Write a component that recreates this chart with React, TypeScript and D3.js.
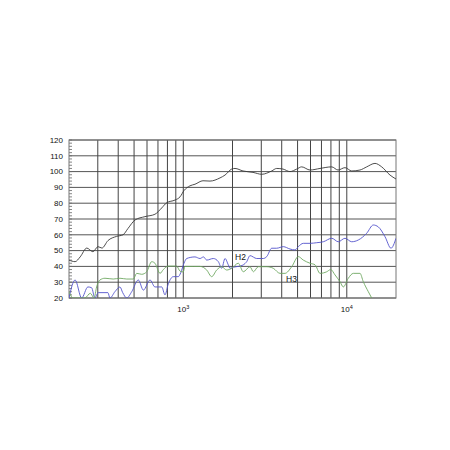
import * as d3 from 'd3';

// fundamental response
const mainFreq = [200, 218, 234, 257, 280, 301, 318, 346, 391, 428, 459, 507, 583, 671, 738, 792, 890, 955, 1010, 1099, 1179, 1320, 1457, 1677, 1800, 1978, 2072, 2318, 2670, 3018, 3474, 3727, 4074, 4494, 4940, 5300, 5958, 6858, 8088, 8838, 9752, 10716, 12044, 13240, 14878, 16352, 18380, 20000];
const mainDb = [44, 43, 46, 51.6, 49.3, 52.5, 51.6, 56.3, 59, 60, 64, 69.4, 71.5, 73, 77, 80.3, 82, 84, 88, 91, 92, 94.2, 94, 96, 97.8, 101.6, 102, 100.4, 99.5, 98.3, 100.4, 102, 101.6, 100, 101.6, 103, 101, 102, 103, 101, 102.5, 100.4, 101, 103, 105.2, 103, 97.8, 95.3];

// second harmonic
const h2Freq = [200, 218, 239, 261, 275, 288, 302, 346, 356, 382, 410, 426, 451, 484, 531, 570, 626, 671, 738, 773, 810, 869, 932, 965, 1010, 1049, 1179, 1265, 1330, 1391, 1526, 1638, 1718, 1800, 1885, 1931, 2023, 2170, 2329, 2443, 2559, 2812, 3086, 3239, 3474, 3727, 4090, 4494, 4824, 5052, 5420, 5958, 6546, 7186, 8088, 8874, 9752, 10716, 11760, 13240, 14526, 15590, 17130, 18640, 20000];
const h2Db = [20, 31.4, 20, 27, 26.5, 20, 23.4, 23.4, 20, 24, 27, 23.4, 20, 24, 31.4, 25, 31.4, 27, 27, 22, 29, 33.5, 33.5, 36, 42, 45, 46, 45, 46, 44, 45, 43, 38.8, 45, 41, 38.8, 39.5, 40, 41, 43, 46.8, 45, 45, 46.2, 51.5, 51.5, 52.5, 51, 50.4, 52.5, 54.6, 54.6, 55, 55.6, 57.8, 55.6, 57.8, 55.6, 56.7, 61, 66.2, 65, 58.8, 51.5, 57.8];

// third harmonic
const h3Freq = [200, 212, 250, 270, 285, 295, 309, 332, 373, 410, 451, 495, 519, 557, 597, 641, 671, 721, 755, 810, 911, 955, 1000, 1024, 1151, 1265, 1391, 1492, 1601, 1718, 1843, 1978, 2170, 2329, 2559, 2682, 2875, 3239, 3552, 3904, 4190, 4605, 5052, 5420, 5958, 6392, 6858, 7538, 7974, 8474, 9090, 9522, 10216, 10962, 12044, 12620, 13542, 14206];
const h3Db = [24, 20, 20, 23, 20, 27, 31.4, 32.5, 32, 32.5, 32, 32, 35.6, 35, 36.6, 43, 42, 35.6, 38, 40.2, 40.2, 37, 36.5, 40, 40, 40, 37.7, 33.5, 37.7, 39.8, 37.7, 38.8, 42, 36.6, 39.8, 36.6, 39.8, 39.8, 38.8, 35.6, 35.6, 39.8, 46.2, 44, 42, 41, 35.6, 36.6, 38, 34.6, 30.3, 27, 32.5, 35.6, 35.6, 30.3, 24, 20];

const yTicks = [20, 30, 40, 50, 60, 70, 80, 90, 100, 110, 120];
const xDecades = [{ f: 1000, exp: '3' }, { f: 10000, exp: '4' }];

export default function App() {
  const left = 69, right = 396, top = 140, bottom = 298;
  const x = d3.scaleLog().domain([200, 20000]).range([left, right]);
  const y = d3.scaleLinear().domain([20, 120]).range([bottom, top]);

  const gridFreqs: number[] = [];
  for (let f = 300; f < 1000; f += 100) gridFreqs.push(f);
  for (let f = 1000; f < 10000; f += 1000) gridFreqs.push(f);
  gridFreqs.push(10000);

  const minor = d3.range(20, 121, 2);

  const line = d3.line<[number, number]>()
    .x(d => x(d[0]))
    .y(d => y(d[1]))
    .curve(d3.curveMonotoneX);

  const mk = (fs: number[], ds: number[]) => line(fs.map((f, i) => [f, ds[i]] as [number, number])) || '';

  return (
    <svg width={450} height={450} style={{ position: 'absolute', left: 0, top: 0, background: 'white' }}
      fontFamily="Liberation Sans, Arial, sans-serif">
      <defs>
        <clipPath id="plot">
          <rect x={left} y={top} width={right - left} height={bottom - top} />
        </clipPath>
      </defs>
      {yTicks.map(t => (
        <line key={'h' + t} x1={left} x2={right} y1={y(t)} y2={y(t)} stroke="#555" strokeWidth={1} />
      ))}
      {gridFreqs.map(f => (
        <line key={'v' + f} x1={x(f)} x2={x(f)} y1={top} y2={bottom} stroke="#444" strokeWidth={1} />
      ))}
      {minor.map(t => (
        <line key={'m' + t} x1={left} x2={left + 3} y1={y(t)} y2={y(t)} stroke="#666" strokeWidth={0.8} />
      ))}
      <rect x={left} y={top} width={right - left} height={bottom - top} fill="none" stroke="#777" strokeWidth={1} />
      <g clipPath="url(#plot)" fill="none" strokeWidth={0.9}>
        <path d={mk(mainFreq, mainDb)} stroke="#3a3a3a" />
        <path d={mk(h2Freq, h2Db)} stroke="#5353cc" />
        <path d={mk(h3Freq, h3Db)} stroke="#6fa862" />
      </g>
      {yTicks.map(t => (
        <text key={'yl' + t} x={63} y={y(t)} dy="0.35em" textAnchor="end" fontSize={8} fill="#111">{t}</text>
      ))}
      {xDecades.map(d => (
        <text key={'xl' + d.f} x={x(d.f)} y={312} textAnchor="middle" fontSize={8} fill="#111">
          10<tspan fontSize={5.5} dy={-3}>{d.exp}</tspan>
        </text>
      ))}
      <text x={235} y={260} fontSize={8.5} fill="#111">H2</text>
      <text x={286} y={282} fontSize={8.5} fill="#111">H3</text>
    </svg>
  );
}
